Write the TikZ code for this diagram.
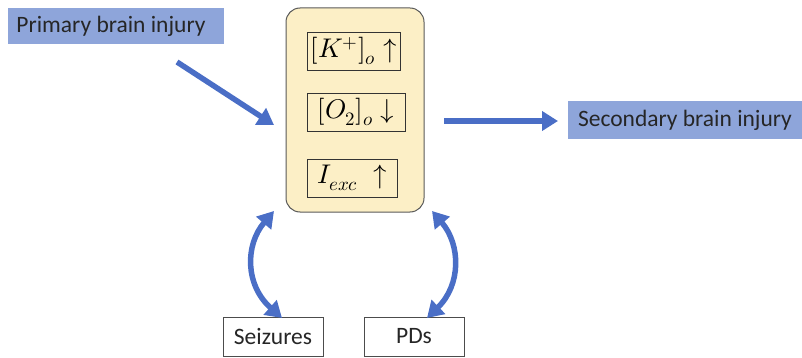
\documentclass[tikz,border=0pt]{standalone}
\usepackage{fontspec}
\usepackage{unicode-math}
\setmainfont{Carlito}
\setmathfont{Latin Modern Math}
\usetikzlibrary{arrows.meta}
\definecolor{boxblue}{HTML}{8EA5DA}
\definecolor{arrblue}{HTML}{4A6EC6}
\definecolor{paleyel}{HTML}{FCEFC6}
\definecolor{txt}{HTML}{262626}
\tikzset{
  label box/.style={rectangle, fill=boxblue, inner sep=0pt, text=txt, font=\fontsize{23.5}{26}\selectfont},
  plain box/.style={rectangle, draw=black!70, line width=0.9pt, fill=white, inner sep=0pt, text=txt, font=\fontsize{23.5}{26}\selectfont},
  var box/.style={rectangle, draw=black!80, line width=0.9pt, inner sep=0pt, font=\fontsize{27}{30}\selectfont},
  big arrow/.style={draw=arrblue, line width=5.5pt, -{Triangle[length=16pt,width=19pt]}},
  dbl arrow/.style={draw=arrblue, line width=5.5pt, {Triangle[length=16pt,width=19pt]}-{Triangle[length=16pt,width=19pt]}}
}
\begin{document}
\begin{tikzpicture}[x=1pt,y=-1pt]
\useasboundingbox (0,0) rectangle (802,358);
\node[label box, minimum width=216pt, minimum height=36pt] (primary) at (116,26) {\hspace*{-10pt}Primary brain injury};
\node[rectangle, draw=black!65, line width=1pt, fill=paleyel, rounded corners=14pt, minimum width=138pt, minimum height=204pt] (main) at (355,110) {};
\node[var box, minimum width=93pt, minimum height=38pt] (k) at (353.5,51) {$[K^{+}]_o\uparrow$};
\node[var box, minimum width=98pt, minimum height=38pt] (o2) at (356,112) {$[O_2]_o\downarrow$};
\node[var box, minimum width=90pt, minimum height=38pt] (iexc) at (352,178) {$I_{exc}\;\uparrow$};
\node[label box, minimum width=234pt, minimum height=38pt] (secondary) at (685,120) {Secondary brain injury};
\node[plain box, minimum width=100pt, minimum height=39pt] (seiz) at (273,336.5) {Seizures};
\node[plain box, minimum width=100pt, minimum height=39pt] (pds) at (414,336.5) {PDs};
\coordinate (a1s) at (177,62);
\coordinate (a1e) at (274,125);
\coordinate (a2s) at (444,121);
\coordinate (a2e) at (558,121);
\coordinate (l1) at (274,211);
\coordinate (l2) at (282,318);
\coordinate (r1) at (432,211);
\coordinate (r2) at (427,318);
\draw[big arrow] (a1s) -- (a1e);
\draw[big arrow] (a2s) -- (a2e);
\draw[dbl arrow] (l1) .. controls (245,245) and (245,285) .. (l2);
\draw[dbl arrow] (r1) .. controls (461,245) and (461,285) .. (r2);
\end{tikzpicture}
\end{document}
